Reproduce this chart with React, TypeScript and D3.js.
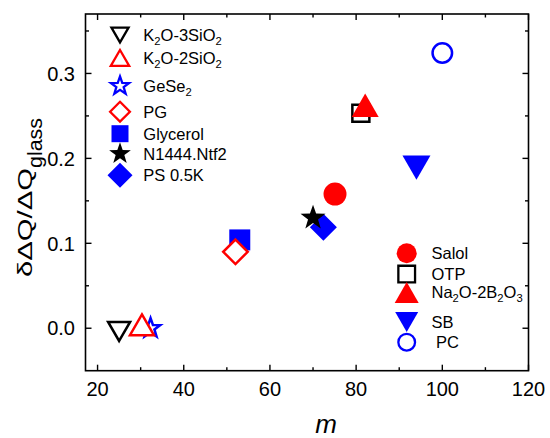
import React from "react";
import * as d3 from "d3";

const W = 550;
const H = 438;
const FONT = "'Liberation Sans', Arial, Helvetica, sans-serif";

// ---- data ----
const names = ["K_2O-3SiO_2", "K_2O-2SiO_2", "GeSe_2", "PG", "Glycerol", "N1444.Ntf2", "PS 0.5K", "Salol", "OTP", "Na_2O-2B_2O_3", "SB", " PC"];
const mValues = [25, 30.3, 32.3, 52, 53, 70, 72.4, 75.1, 81.1, 82.1, 94, 100];
const dqValues = [0, 0, 0, 0.09, 0.104, 0.13, 0.119, 0.158, 0.253, 0.258, 0.194, 0.324];
const xMajor = [20, 40, 60, 80, 100, 120];
const xMinor = [30, 50, 70, 90, 110];
const yMajor = [0, 0.1, 0.2, 0.3];
const yMinor = [0.05, 0.15, 0.25, 0.35];

// ---- styles ----
const shapes = ["down", "up", "star", "diamond", "square", "star", "diamond", "circle", "square", "up", "down", "circle"];
const colors = ["#000", "#f00", "#00f", "#f00", "#00f", "#000", "#00f", "#f00", "#000", "#f00", "#00f", "#00f"];
const filled = [false, false, false, false, true, true, true, true, false, true, true, false];
const plotSizes = [27, 29, 23, 28, 21, 25, 27, 23, 19.5, 27, 28, 22];
const legendSizes = [21.7, 23, 21.7, 23, 17, 21.7, 25, 20, 19, 24, 23, 19];
const drawOrder = [0, 2, 1, 4, 3, 6, 5, 7, 8, 9, 10, 11];

// ---- layout ----
const M = { left: 85.5, right: 528.5, top: 14, bottom: 370.7 };
const legend1 = { symX: 120, textX: 143.3, rows: [35, 58, 86, 111.7, 133.7, 153.7, 175.3] };
const legend2 = { symX: 406.7, textX: 431.5, rows: [253.2, 274.1, 292.5, 322, 342.2] };

const x = d3.scaleLinear().domain([17.2, 120]).range([M.left, M.right]);
const y = d3.scaleLinear().domain([-0.05, 0.37]).range([M.bottom, M.top]);

function shapePath(shape: string, s: number, open: boolean, sw: number, bboxCenter: boolean): string {
  const p = d3.path();
  if (shape === "circle") {
    const r = open ? s / 2 - sw / 2 : s / 2;
    p.moveTo(r, 0);
    p.arc(0, 0, r, 0, Math.PI * 2);
    p.closePath();
  } else if (shape === "square") {
    const a = (open ? s - sw : s) / 2;
    p.rect(-a, -a, 2 * a, 2 * a);
  } else if (shape === "diamond") {
    const h = open ? s / 2 - sw * 0.7 : s / 2;
    p.moveTo(0, -h);
    p.lineTo(h, 0);
    p.lineTo(0, h);
    p.lineTo(-h, 0);
    p.closePath();
  } else if (shape === "up" || shape === "down") {
    const side = open ? s - sw * 2 : s;
    const ht = (side * Math.sqrt(3)) / 2;
    const sign = shape === "up" ? 1 : -1;
    let apex = (-2 * ht) / 3;
    let base = ht / 3;
    if (bboxCenter) {
      apex = -ht / 2;
      base = ht / 2;
    }
    p.moveTo(0, sign * apex);
    p.lineTo(side / 2, sign * base);
    p.lineTo(-side / 2, sign * base);
    p.closePath();
  } else if (shape === "star") {
    const R = (open ? s - sw * 1.5 : s) / 1.902;
    const r = R * 0.4;
    for (let i = 0; i < 10; i++) {
      const ang = -Math.PI / 2 + (i * Math.PI) / 5;
      const rr = i % 2 === 0 ? R : r;
      const px = rr * Math.cos(ang);
      const py = rr * Math.sin(ang);
      if (i === 0) p.moveTo(px, py);
      else p.lineTo(px, py);
    }
    p.closePath();
  }
  return p.toString();
}

function Marker({ i, cx, cy, size, sw, bbox }: { i: number; cx: number; cy: number; size: number; sw: number; bbox: boolean }) {
  const open = !filled[i];
  const d = shapePath(shapes[i], size, open, sw, bbox);
  return (
    <path
      d={d}
      transform={`translate(${cx},${cy})`}
      fill={open ? "#fff" : colors[i]}
      stroke={open ? colors[i] : "none"}
      strokeWidth={open ? sw : 0}
      strokeLinejoin="miter"
    />
  );
}

function Label({ text, xPos, yBase, size }: { text: string; xPos: number; yBase: number; size: number }) {
  const parts: { t: string; sub: boolean }[] = [];
  let buf = "";
  for (let k = 0; k < text.length; k++) {
    if (text[k] === "_" && k + 1 < text.length) {
      if (buf) parts.push({ t: buf, sub: false });
      buf = "";
      parts.push({ t: text[k + 1], sub: true });
      k++;
    } else buf += text[k];
  }
  if (buf) parts.push({ t: buf, sub: false });
  let shifted = false;
  return (
    <text x={xPos} y={yBase} fontFamily={FONT} fontSize={size} fill="#000" style={{ whiteSpace: "pre" }}>
      {parts.map((pt, j) => {
        let dy = 0;
        if (pt.sub && !shifted) {
          dy = 4;
          shifted = true;
        } else if (!pt.sub && shifted) {
          dy = -4;
          shifted = false;
        }
        return (
          <tspan key={j} dy={dy} fontSize={pt.sub ? size * 0.68 : size}>
            {pt.t}
          </tspan>
        );
      })}
    </text>
  );
}

export default function App() {
  const majorLen = 6;
  const minorLen = 3.5;
  const tickStroke = 1.4;
  return (
    <svg width={W} height={H} style={{ position: "absolute", left: 0, top: 0, background: "#fff" }}>
      <rect x={0} y={0} width={W} height={H} fill="#fff" />
      {/* ticks */}
      <g stroke="#000" strokeWidth={tickStroke}>
        {xMajor.map((v) => (
          <g key={"xM" + v}>
            <line x1={x(v)} x2={x(v)} y1={M.bottom} y2={M.bottom - majorLen} />
            <line x1={x(v)} x2={x(v)} y1={M.top} y2={M.top + majorLen} />
          </g>
        ))}
        {xMinor.map((v) => (
          <g key={"xm" + v}>
            <line x1={x(v)} x2={x(v)} y1={M.bottom} y2={M.bottom - minorLen} />
            <line x1={x(v)} x2={x(v)} y1={M.top} y2={M.top + minorLen} />
          </g>
        ))}
        {yMajor.map((v) => (
          <g key={"yM" + v}>
            <line x1={M.left} x2={M.left + majorLen} y1={y(v)} y2={y(v)} />
            <line x1={M.right} x2={M.right - majorLen} y1={y(v)} y2={y(v)} />
          </g>
        ))}
        {yMinor.map((v) => (
          <g key={"ym" + v}>
            <line x1={M.left} x2={M.left + minorLen} y1={y(v)} y2={y(v)} />
            <line x1={M.right} x2={M.right - minorLen} y1={y(v)} y2={y(v)} />
          </g>
        ))}
      </g>
      {/* tick labels */}
      <g fontFamily={FONT} fontSize={20} fill="#000">
        {xMajor.map((v) => (
          <text key={"xl" + v} x={x(v)} y={396} textAnchor="middle">
            {d3.format("d")(v)}
          </text>
        ))}
        {yMajor.map((v) => (
          <text key={"yl" + v} x={75} y={y(v) + 7.2} textAnchor="end">
            {d3.format(".1f")(v)}
          </text>
        ))}
      </g>
      {/* axis titles */}
      <text x={326} y={432.5} textAnchor="middle" fontFamily={FONT} fontSize={26} fontStyle="italic">
        m
      </text>
      <text
        transform="translate(32,277) rotate(-90)"
        fontFamily={FONT}
        fontSize={20}
        textLength={109}
        lengthAdjust="spacingAndGlyphs"
      >
        δΔQ/ΔQ
      </text>
      <text
        transform="translate(41.7,168) rotate(-90)"
        fontFamily={FONT}
        fontSize={20}
        textLength={50}
        lengthAdjust="spacingAndGlyphs"
      >
        glass
      </text>
      {/* data markers */}
      <g>
        {drawOrder.map((i) => (
          <Marker key={"pt" + i} i={i} cx={x(mValues[i])} cy={y(dqValues[i])} size={plotSizes[i]} sw={2.5} bbox={false} />
        ))}
      </g>
      {/* legend 1 */}
      <g>
        {legend1.rows.map((ry, k) => (
          <g key={"l1" + k}>
            <Marker i={k} cx={legend1.symX} cy={ry} size={legendSizes[k]} sw={2.3} bbox={true} />
            <Label text={names[k]} xPos={legend1.textX} yBase={ry + 5.9} size={16.5} />
          </g>
        ))}
      </g>
      {/* legend 2 */}
      <g>
        {legend2.rows.map((ry, k) => {
          const i = k + 7;
          return (
            <g key={"l2" + k}>
              <Marker i={i} cx={legend2.symX} cy={ry} size={legendSizes[i]} sw={2.3} bbox={true} />
              <Label text={names[i]} xPos={legend2.textX} yBase={ry + 5.9} size={16.5} />
            </g>
          );
        })}
      </g>
      {/* frame */}
      <rect
        x={M.left}
        y={M.top}
        width={M.right - M.left}
        height={M.bottom - M.top}
        fill="none"
        stroke="#000"
        strokeWidth={1.6}
      />
    </svg>
  );
}
